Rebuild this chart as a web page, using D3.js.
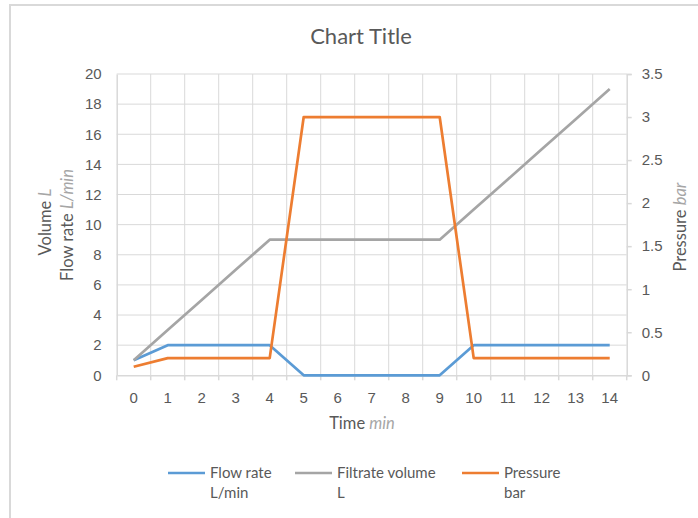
<!DOCTYPE html>
<html>
<head>
<meta charset="utf-8">
<script src="https://cdn.jsdelivr.net/npm/d3@7"></script>
<style>
  body { margin: 0; background: #fff; }
  svg { display: block; font-family: Lato, "Open Sans", sans-serif; }
</style>
</head>
<body>
<svg id="chart" width="698" height="518"></svg>
<script>
// Time categories (min)
const categories = [0, 1, 2, 3, 4, 5, 6, 7, 8, 9, 10, 11, 12, 13, 14];
// Flow rate, L/min (left axis)
const flowRate = [1, 2, 2, 2, 2, 0, 0, 0, 0, 0, 2, 2, 2, 2, 2];
// Filtrate volume, L (left axis)
const filtrateVolume = [1, 3, 5, 7, 9, 9, 9, 9, 9, 9, 11, 13, 15, 17, 19];
// Pressure, bar (right axis)
const pressure = [0.1, 0.2, 0.2, 0.2, 0.2, 3, 3, 3, 3, 3, 0.2, 0.2, 0.2, 0.2, 0.2];
// Axis ticks
const leftTicks = [0, 2, 4, 6, 8, 10, 12, 14, 16, 18, 20];
const rightTicks = [0, 0.5, 1, 1.5, 2, 2.5, 3, 3.5];

const svg = d3.select("#chart");
const W = 698, H = 518;
const plot = { left: 116.7, right: 626.7, top: 74, bottom: 375.3 };
const textColor = "#595959";
const lightText = "#a6a6a6";
const gridColor = "#d9d9d9";

// Outer chart frame
svg.append("path")
  .attr("d", `M10,${H + 5} L10,5 L${W + 5},5`)
  .attr("fill", "none").attr("stroke", gridColor).attr("stroke-width", 2);

const x = d3.scaleBand().domain(categories).range([plot.left, plot.right]).padding(0);
const yL = d3.scaleLinear().domain([0, 20]).range([plot.bottom, plot.top]);
const yR = d3.scaleLinear().domain([0, 3.5]).range([plot.bottom, plot.top]);
const cx = c => x(c) + x.bandwidth() / 2;

// Horizontal gridlines
svg.append("g").selectAll("line").data(leftTicks.slice(1)).join("line")
  .attr("x1", plot.left).attr("x2", plot.right)
  .attr("y1", d => yL(d)).attr("y2", d => yL(d))
  .attr("stroke", gridColor).attr("stroke-width", 1);

// Vertical gridlines at category boundaries
const bounds = categories.map(c => x(c)).concat([plot.right]);
svg.append("g").selectAll("line").data(bounds.slice(1, -1)).join("line")
  .attr("x1", d => d).attr("x2", d => d)
  .attr("y1", plot.top).attr("y2", plot.bottom)
  .attr("stroke", gridColor).attr("stroke-width", 1);

// Bottom axis with ticks between categories
const xAxis = svg.append("g").attr("transform", `translate(0,${plot.bottom})`)
  .call(d3.axisBottom(x).tickSize(0).tickPadding(17));
xAxis.select(".domain").attr("stroke", gridColor).attr("stroke-width", 1.5);
xAxis.selectAll("text").attr("fill", textColor).attr("font-size", 15);
xAxis.selectAll(".bticks").data(bounds).join("line")
  .attr("x1", d => d).attr("x2", d => d).attr("y1", 0).attr("y2", 5)
  .attr("stroke", gridColor).attr("stroke-width", 1.5);

// Left axis
const lAxis = svg.append("g").attr("transform", `translate(${plot.left},0)`)
  .call(d3.axisLeft(yL).tickValues(leftTicks).tickSize(0).tickPadding(15));
lAxis.select(".domain").attr("stroke", gridColor).attr("stroke-width", 1.5);
lAxis.selectAll("text").attr("fill", textColor).attr("font-size", 15);

// Right axis
const rAxis = svg.append("g").attr("transform", `translate(${plot.right},0)`)
  .call(d3.axisRight(yR).tickValues(rightTicks).tickSize(5).tickPadding(10)
    .tickFormat(d3.format("")));
rAxis.select(".domain").attr("stroke", gridColor).attr("stroke-width", 1.5);
rAxis.selectAll(".tick line").attr("stroke", gridColor).attr("stroke-width", 1.5);
rAxis.selectAll("text").attr("fill", textColor).attr("font-size", 15);

// Series lines
const series = [
  { name: "Flow rate", unit: "L/min", values: flowRate, y: yL, color: "#5b9bd5" },
  { name: "Filtrate volume", unit: "L", values: filtrateVolume, y: yL, color: "#a5a5a5" },
  { name: "Pressure", unit: "bar", values: pressure, y: yR, color: "#ed7d31" }
];
series.forEach(s => {
  const line = d3.line().x((d, i) => cx(categories[i])).y(d => s.y(d));
  svg.append("path").datum(s.values)
    .attr("d", line)
    .attr("fill", "none").attr("stroke", s.color).attr("stroke-width", 2.7)
    .attr("stroke-linejoin", "round");
});

// Title
svg.append("text").attr("x", 361).attr("y", 44).attr("text-anchor", "middle")
  .attr("fill", textColor).attr("font-size", 22).text("Chart Title");

// Axis titles with italic units
function axisTitle(xp, yp, rot, label, unit) {
  const t = svg.append("text")
    .attr("transform", `translate(${xp},${yp}) rotate(${rot})`)
    .attr("text-anchor", "middle").attr("font-size", 16.5).attr("fill", textColor);
  t.append("tspan").text(label + " ");
  t.append("tspan").attr("font-style", "italic").attr("fill", lightText).text(unit);
}
axisTitle(51, 222, -90, "Volume", "L");
axisTitle(73, 225, -90, "Flow rate", "L/min");
axisTitle(686, 227, -90, "Pressure", "bar");
axisTitle(362, 429, 0, "Time", "min");

// Legend
const legendX = [168, 295, 462];
series.forEach((s, i) => {
  const g = svg.append("g").attr("transform", `translate(${legendX[i]},473)`);
  g.append("line").attr("x1", 0).attr("x2", 37).attr("y1", 0).attr("y2", 0)
    .attr("stroke", s.color).attr("stroke-width", 2.7);
  const t = g.append("text").attr("x", 42).attr("y", 5)
    .attr("font-size", 15).attr("fill", textColor);
  t.append("tspan").attr("x", 42).text(s.name);
  t.append("tspan").attr("x", 42).attr("dy", 20).text(s.unit);
});
</script>
</body>
</html>
